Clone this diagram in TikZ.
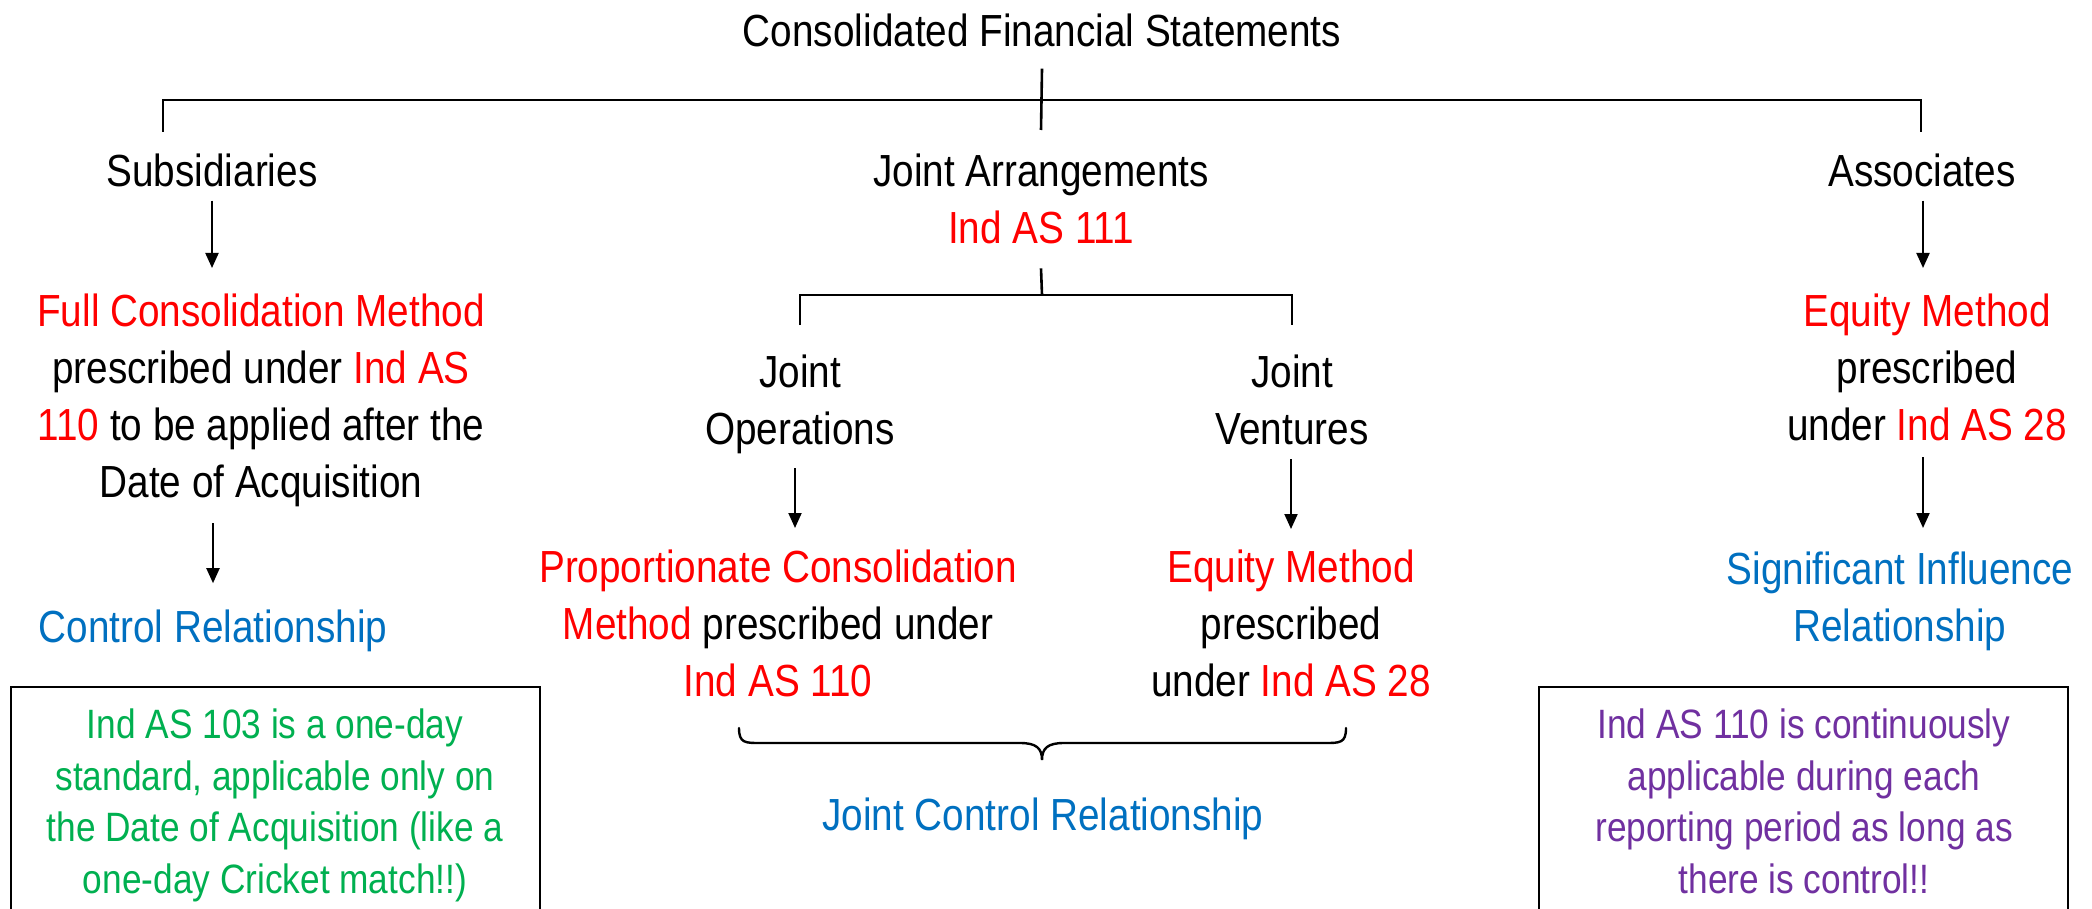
\documentclass[tikz,border=0pt]{standalone}
\usepackage{fontspec}
\setmainfont{Liberation Sans}[FakeStretch=0.86]
\usetikzlibrary{arrows.meta}
\definecolor{hred}{HTML}{FF0000}
\definecolor{hblue}{HTML}{0070C0}
\definecolor{hgreen}{HTML}{00B050}
\definecolor{hpurple}{HTML}{7030A0}
\newcommand{\rd}[1]{\textcolor{hred}{#1}}
\begin{document}
\begin{tikzpicture}[x=1pt,y=-1pt,
  txt/.style={inner sep=0pt, align=center, font=\fontsize{45}{57}\selectfont},
  note/.style={inner sep=0pt, align=center, font=\fontsize{41}{51.5}\selectfont},
  tree/.style={line width=2.6pt},
  down/.style={line width=2pt, -{Triangle[length=15pt,width=13pt]}},
  box/.style={draw, line width=2pt}]
\clip (0,0) rectangle (2092,909);
\fill[white] (0,0) rectangle (2092,909);

% top level
\node[txt, anchor=base] (title) at (1042,47) {Consolidated Financial Statements};
\node[txt, anchor=base] (subs) at (212,187) {Subsidiaries};
\node[txt, anchor=north] (ja) at (1041,154) {Joint Arrangements\\\rd{Ind AS 111}};
\node[txt, anchor=base] (assoc) at (1922,187) {Associates};

\coordinate (lt) at (163,100);
\coordinate (rt) at (1921,100);
\draw[tree] ([yshift=-21pt]title.south) -- ([yshift=24pt]ja.north);
\draw[tree] ([yshift=-32pt]lt) -- (lt) -- (rt) -- ([yshift=-32pt]rt);

% subsidiaries branch
\node[txt, anchor=north] (full) at (261,294)
  {\rd{Full Consolidation Method}\\prescribed under \rd{Ind AS}\\\rd{110} to be applied after the\\Date of Acquisition};
\node[txt, anchor=base, text=hblue] (ctrl) at (213,642) {Control Relationship};
\draw[down] ([yshift=-13pt]subs.south) -- ([yshift=26pt]subs.south |- full.north);
\draw[down] ([yshift=-16pt]full.south -| ctrl.north) -- ([yshift=26pt]ctrl.north);

% joint arrangements branch
\node[txt, anchor=north] (jo) at (800,355) {Joint\\Operations};
\node[txt, anchor=north] (jv) at (1292,355) {Joint\\Ventures};
\coordinate (jhub) at (1042,295);
\draw[tree] ([yshift=-24pt]ja.south) -- (jhub);
\draw[tree] ([yshift=30pt]jo.north) |- (jhub) -| ([yshift=30pt]jv.north);

\node[txt, anchor=north] (prop) at (778,550)
  {\rd{Proportionate Consolidation}\\\rd{Method} prescribed under\\\rd{Ind AS 110}};
\node[txt, anchor=north] (jveq) at (1291,550)
  {\rd{Equity Method}\\prescribed\\under \rd{Ind AS 28}};
\coordinate (jox) at (795,0);
\coordinate (jvx) at (1291,0);
\draw[down] ([yshift=-14pt]jo.south -| jox) -- ([yshift=22pt]prop.north -| jox);
\draw[down] ([yshift=-14pt]jv.south -| jvx) -- ([yshift=21pt]jveq.north -| jvx);

% brace over both joint arrangement methods
\coordinate (bl) at (739,728);
\coordinate (br) at (1346,728);
\coordinate (btip) at (1042,760);
\draw[line width=2.4pt, line cap=round]
  (bl) .. controls (739,743) and (745,743) .. (760,743)
  -- (1020,743) .. controls (1036,743) and (1042,748) .. (btip)
  .. controls (1042,748) and (1048,743) .. (1064,743)
  -- (1325,743) .. controls (1340,743) and (1346,743) .. (br);
\node[txt, anchor=base, text=hblue] (jcr) at (1043,830) {Joint Control Relationship};

% associates branch
\node[txt, anchor=north] (aseq) at (1927,294)
  {\rd{Equity Method}\\prescribed\\under \rd{Ind AS 28}};
\node[txt, anchor=north, text=hblue] (sig) at (1900,552)
  {Significant Influence\\Relationship};
\coordinate (asx) at (1923,0);
\draw[down] ([yshift=-13pt]assoc.south -| asx) -- ([yshift=26pt]aseq.north -| asx);
\draw[down] ([yshift=-16pt]aseq.south -| asx) -- ([yshift=24pt]sig.north -| asx);

% notes
\draw[box] (11,915) -- (11,687) -- (540,687) -- (540,915);
\node[note, anchor=north, text=hgreen] (n1) at (275,709)
  {Ind AS 103 is a one-day\\standard, applicable only on\\the Date of Acquisition (like a\\one-day Cricket match!!)};
\draw[box] (1539,915) -- (1539,687) -- (2068,687) -- (2068,915);
\node[note, anchor=north, text=hpurple] (n2) at (1804,709)
  {Ind AS 110 is continuously\\applicable during each\\reporting period as long as\\there is control!!};
\end{tikzpicture}
\end{document}
